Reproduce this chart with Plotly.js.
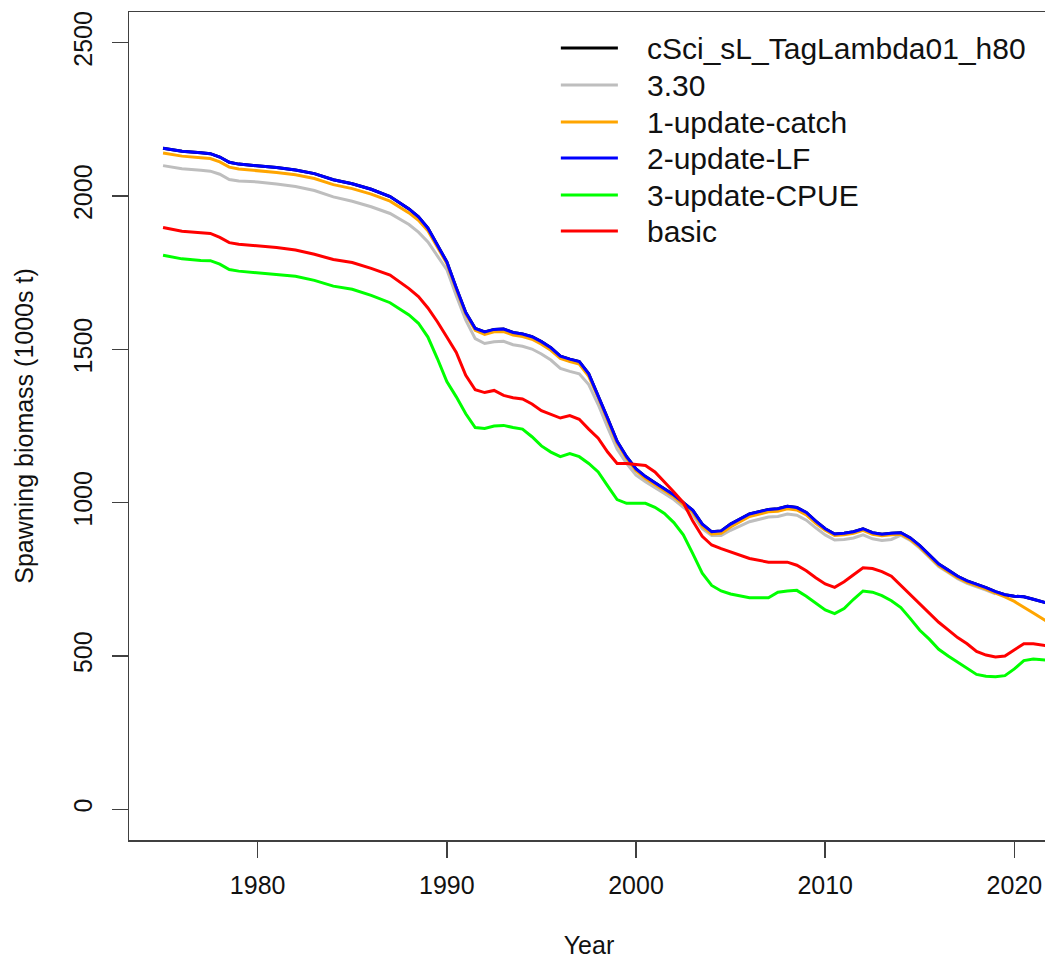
<!DOCTYPE html>
<html>
<head>
<meta charset="utf-8">
<script src="https://cdn.plot.ly/plotly-3.0.1.min.js"></script>
<style>
html, body { margin: 0; padding: 0; overflow: hidden; background: #ffffff; }
#chart { width: 1060px; height: 959px; }
</style>
</head>
<body>
<div id="chart"></div>
<script>
// ---- Data ----
const years = [
  1975, 1976, 1977, 1977.5, 1978, 1978.5, 1979, 1980, 1981, 1982,
  1983, 1984, 1985, 1986, 1987, 1988, 1988.5, 1989, 1989.5, 1990,
  1990.5, 1991, 1991.5, 1992, 1992.5, 1993, 1993.5, 1994, 1994.5, 1995,
  1995.5, 1996, 1996.5, 1997, 1997.5, 1998, 1998.5, 1999, 1999.5, 2000,
  2000.5, 2001, 2001.5, 2002, 2002.5, 2003, 2003.5, 2004, 2004.5, 2005,
  2006, 2007, 2007.5, 2008, 2008.5, 2009, 2009.5, 2010, 2010.5, 2011,
  2011.5, 2012, 2012.5, 2013, 2013.5, 2014, 2014.5, 2015, 2015.5, 2016,
  2016.5, 2017, 2017.5, 2018, 2018.5, 2019, 2019.5, 2020, 2020.5, 2021,
  2021.75
];

const seriesNames = ["cSci_sL_TagLambda01_h80", "3.30", "1-update-catch", "2-update-LF", "3-update-CPUE", "basic"];

const cSciValues = [
  2156, 2146, 2141, 2138, 2127, 2110, 2104, 2099, 2093, 2085,
  2073, 2053, 2040, 2022, 1998, 1958, 1932, 1895, 1840, 1785,
  1700, 1620, 1568, 1557, 1565, 1566, 1555, 1550, 1541, 1525,
  1505, 1478, 1468, 1460, 1420, 1350, 1275, 1200, 1150, 1110,
  1085, 1065, 1045, 1025, 1000, 975, 930, 905, 908, 930,
  963, 978, 980, 988, 984, 968, 940, 915, 898, 900,
  905, 915, 902, 897, 900, 902, 885, 860, 830, 800,
  780, 760, 745, 735, 723, 710, 700, 695, 693, 685,
  672
];

const v330Values = [
  2099, 2089, 2084, 2081, 2071, 2054, 2049, 2046, 2039, 2031,
  2018, 1997, 1983, 1965, 1943, 1907, 1882, 1850, 1805, 1760,
  1675, 1595, 1535, 1519, 1525, 1526, 1515, 1510, 1501, 1485,
  1465, 1438, 1428, 1420, 1385, 1320, 1245, 1175, 1128, 1090,
  1068, 1050, 1030, 1010, 985, 960, 915, 893, 893, 910,
  938, 953, 955, 963, 959, 943, 918, 895, 878, 880,
  885, 895, 882, 877, 880, 894, 877, 852, 822, 792,
  772, 752, 737, 727, 715, 703, null, null, null, null,
  null
];

const catchValues = [
  2140, 2130, 2125, 2122, 2111, 2094, 2088, 2083, 2077, 2069,
  2057, 2037, 2024, 2006, 1983, 1945, 1921, 1887, 1834, 1780,
  1695, 1615, 1562, 1549, 1557, 1558, 1547, 1542, 1533, 1517,
  1497, 1470, 1460, 1452, 1412, 1343, 1268, 1194, 1144, 1104,
  1079, 1059, 1039, 1019, 994, 969, 923, 898, 900, 921,
  955, 970, 972, 980, 976, 960, 933, 910, 893, 895,
  900, 910, 897, 892, 895, 897, 880, 855, 825, 795,
  775, 755, 740, 730, 718, 705, 693, 678, 660, 640,
  612
];

const lfValues = [
  2156, 2146, 2141, 2138, 2127, 2110, 2104, 2099, 2093, 2085,
  2073, 2053, 2040, 2022, 1998, 1958, 1932, 1895, 1840, 1785,
  1700, 1620, 1568, 1557, 1565, 1566, 1555, 1550, 1541, 1525,
  1505, 1478, 1468, 1460, 1420, 1350, 1275, 1200, 1150, 1110,
  1085, 1065, 1045, 1025, 1000, 975, 930, 905, 908, 930,
  963, 978, 980, 988, 984, 968, 940, 915, 898, 900,
  905, 915, 902, 897, 900, 902, 885, 860, 830, 800,
  780, 760, 745, 735, 723, 710, 700, 695, 693, 685,
  672
];

const cpueValues = [
  1807, 1795, 1790, 1789, 1778, 1760, 1755, 1750, 1745, 1738,
  1725, 1706, 1696, 1676, 1652, 1612, 1585, 1540, 1470, 1395,
  1345, 1290, 1245, 1242, 1250, 1252, 1245, 1240, 1215, 1185,
  1165, 1150, 1160, 1150, 1128, 1100, 1055, 1010, 998, 997,
  998, 985, 965, 935, 895, 834, 770, 730, 712, 702,
  690, 690, 708, 712, 714, 695, 672, 650, 638, 655,
  685, 712, 708, 697, 680, 658, 622, 584, 555, 522,
  500, 480, 462, 440, 434, 432, 436, 458, 485, 490,
  486
];

const basicValues = [
  1897, 1885, 1880, 1878, 1865, 1848, 1843, 1838, 1832, 1824,
  1810, 1793, 1783, 1764, 1742, 1698, 1672, 1635, 1590, 1540,
  1490, 1415, 1368, 1359, 1366, 1350, 1342, 1338, 1322, 1300,
  1288, 1276, 1284, 1272, 1240, 1210, 1165, 1128, 1128, 1125,
  1121, 1100, 1068, 1035, 1000, 940, 890, 862, 850, 840,
  818, 806, 807, 806, 796, 778, 755, 735, 724, 742,
  765, 788, 785, 775, 760, 730, 700, 672, 643, 610,
  585, 560, 540, 515, 503, 497, 500, 520, 540, 540,
  533
];

const xTickVals = [1980, 1990, 2000, 2010, 2020];
const yTickVals = [0, 500, 1000, 1500, 2000, 2500];

// ---- Styling ----
const seriesColors = ["#000000", "#BEBEBE", "#FFA500", "#0000FF", "#00FF00", "#FF0000"];
const seriesValues = [cSciValues, v330Values, catchValues, lfValues, cpueValues, basicValues];
const FONT = "Liberation Sans, Arial, Helvetica, sans-serif";
const AXIS_COLOR = "#404040";

const traces = seriesValues.map((vals, i) => ({
  type: "scatter",
  mode: "lines",
  name: seriesNames[i],
  x: years,
  y: vals,
  line: { color: seriesColors[i], width: 3 },
  connectgaps: false,
  showlegend: false,
  hoverinfo: "skip"
}));

// Custom legend (R-style) in paper coordinates
const legendRowsY = [0.9565, 0.9118, 0.8671, 0.8236, 0.7789, 0.7354];
const shapes = [];
const annotations = [];
seriesNames.forEach((name, i) => {
  shapes.push({
    type: "line", xref: "paper", yref: "paper",
    x0: 0.4694, x1: 0.5314, y0: legendRowsY[i], y1: legendRowsY[i],
    line: { color: seriesColors[i], width: 3 }
  });
  annotations.push({
    xref: "paper", yref: "paper", x: 0.5607, y: legendRowsY[i],
    xanchor: "left", yanchor: "middle", showarrow: false,
    text: name, font: { family: FONT, size: 30, color: "#111111" }
  });
});

const layout = {
  width: 1060,
  height: 959,
  margin: { l: 129, r: 11, t: 12, b: 119, pad: 0 },
  paper_bgcolor: "#ffffff",
  plot_bgcolor: "#ffffff",
  showlegend: false,
  font: { family: FONT, size: 25, color: "#111111" },
  xaxis: {
    range: [1973.2, 2021.83],
    tickmode: "array",
    tickvals: xTickVals,
    ticktext: xTickVals.map(String),
    ticks: "outside",
    ticklen: 16,
    tickwidth: 1.5,
    tickcolor: AXIS_COLOR,
    showline: true,
    linecolor: AXIS_COLOR,
    linewidth: 1.5,
    mirror: true,
    showgrid: false,
    zeroline: false,
    tickfont: { family: FONT, size: 25, color: "#111111" },
    ticklabelstandoff: 6,
    title: { text: "Year", font: { family: FONT, size: 25, color: "#111111" }, standoff: 41 }
  },
  yaxis: {
    range: [-100, 2600],
    tickmode: "array",
    tickvals: yTickVals,
    ticktext: yTickVals.map(String),
    tickangle: -90,
    ticks: "outside",
    ticklen: 16,
    tickwidth: 1.5,
    tickcolor: AXIS_COLOR,
    showline: true,
    linecolor: AXIS_COLOR,
    linewidth: 1.5,
    mirror: true,
    showgrid: false,
    zeroline: false,
    tickfont: { family: FONT, size: 25, color: "#111111" },
    ticklabelstandoff: 10,
    title: { text: "Spawning biomass (1000s t)", font: { family: FONT, size: 25, color: "#111111" }, standoff: 28 }
  },
  shapes: shapes,
  annotations: annotations
};

Plotly.newPlot("chart", traces, layout, { staticPlot: true, displayModeBar: false });
</script>
</body>
</html>
